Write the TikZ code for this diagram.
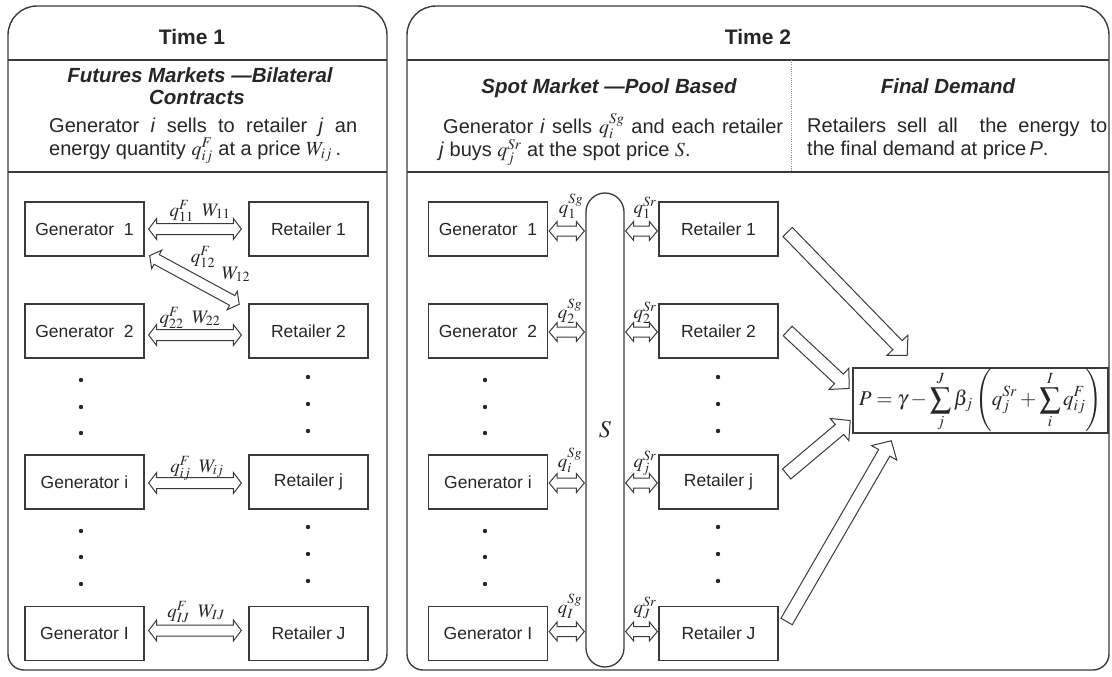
\documentclass[tikz,border=0pt]{standalone}
\usepackage{mathptmx}
\usepackage[no-math]{fontspec}
\setmainfont{Liberation Sans}
\usetikzlibrary{calc}

\definecolor{ink}{HTML}{3A3A3A}
\definecolor{txt}{HTML}{262626}

% end points of an outlined arrow: angle and length between two points
\newcommand\arrowends[2]{%
  \path (#1); \pgfgetlastxy{\ArrAx}{\ArrAy}%
  \path (#2); \pgfgetlastxy{\ArrBx}{\ArrBy}%
  \pgfmathsetmacro\ArrAng{atan2((\ArrBy)-(\ArrAy),(\ArrBx)-(\ArrAx))}%
  \pgfmathsetmacro\ArrLen{veclen((\ArrBx)-(\ArrAx),(\ArrBy)-(\ArrAy))}%
}
% single-headed hollow arrow: from, to, shaft half width, head half width, head length
\newcommand\fatarrow[5]{%
  \arrowends{#1}{#2}%
  \draw[outl, shift={(#1)}, rotate=\ArrAng]
    (0,-#3) -- ({\ArrLen-#5},-#3) -- ({\ArrLen-#5},-#4) -- (\ArrLen,0)
    -- ({\ArrLen-#5},#4) -- ({\ArrLen-#5},#3) -- (0,#3) -- cycle;
}
% double-headed hollow arrow
\newcommand\fatdarrow[5]{%
  \arrowends{#1}{#2}%
  \draw[outl, shift={(#1)}, rotate=\ArrAng]
    (#5,-#3) -- ({\ArrLen-#5},-#3) -- ({\ArrLen-#5},-#4) -- (\ArrLen,0)
    -- ({\ArrLen-#5},#4) -- ({\ArrLen-#5},#3) -- (#5,#3) -- (#5,#4) -- (0,0)
    -- (#5,-#4) -- cycle;
}

\tikzset{
  frame/.style={draw=ink, line width=1.4pt},
  outl/.style={draw=ink, line width=1pt, line join=miter},
  box/.style={draw=ink, line width=1.3pt, minimum width=119pt, minimum height=54pt,
    inner sep=0pt, text=txt, font=\fontsize{17.5}{20}\selectfont},
  pool/.style={draw=ink, line width=1.3pt, rounded corners=19pt, minimum width=38pt,
    minimum height=474pt, inner sep=0pt},
  timehead/.style={text=txt, anchor=base, inner sep=0pt, font=\fontsize{21}{24}\selectfont\bfseries},
  subhead/.style={text=txt, anchor=base, inner sep=0pt, font=\fontsize{20.5}{24}\selectfont\bfseries\itshape},
  body/.style={text=txt, anchor=base west, inner sep=0pt, font=\fontsize{20}{24}\selectfont},
  lbl/.style={text=txt, anchor=base, inner sep=0pt, font=\fontsize{19}{22}\selectfont},
  dot/.style={fill=txt},
}

\begin{document}
\begin{tikzpicture}[x=1pt,y=-1pt]
\useasboundingbox (0,0) rectangle (1112,677);

% ---------------- period 1 panel ----------------
\draw[frame] (8,300) [rounded corners=29pt] -- (8,6) -- (387,6) -- (387,300)
  [rounded corners=16pt] -- (387,670) -- (8,670) -- cycle;
\draw[frame] (8,60) -- (387,60);
\draw[frame] (8,172) -- (387,172);

\node[timehead] (h1) at (192,45) {Time 1};
\node[subhead] (s1a) at (200,83) {Futures Markets —Bilateral};
\node[subhead] (s1b) at (197,105) {Contracts};
\node[body] (t1a) at (49,132) {\makebox[308pt][s]{Generator \textit{i} sells to retailer \textit{j} an}};
\node[body] (t1b) at (49,155) {energy quantity $q_{ij}^{F}$ at a price $W_{ij}$\,.};

\node[box] (g1) at (84.5,229)   {Generator\ \ 1};
\node[box] (g2) at (84.5,331)   {Generator\ \ 2};
\node[box] (gi) at (84.5,482)   {Generator i};
\node[box] (gI) at (84.5,633.5) {Generator I};
\node[box] (r1) at (308.5,229)   {Retailer 1};
\node[box] (r2) at (308.5,331)   {Retailer 2};
\node[box] (rj) at (308.5,482)   {Retailer j};
\node[box] (rJ) at (308.5,633.5) {Retailer J};

\foreach \y in {380,407,433,531,557,584} \fill[dot] (81,\y) circle[radius=2.2pt];
\foreach \y in {377,404,431,527,554,581} \fill[dot] (308,\y) circle[radius=2.2pt];

\fatdarrow{$(g1.east)+(4,0)$}{$(r1.west)+(-7,0)$}{5.5}{10.5}{8}
\fatdarrow{$(g1.south east)+(5,-1)$}{$(r2.north west)+(-9,1)$}{5.5}{10.5}{8}
\fatdarrow{$(g2.east)+(4,4)$}{$(r2.west)+(-7,4)$}{5.5}{10.5}{8}
\fatdarrow{$(gi.east)+(4,1)$}{$(rj.west)+(-7,1)$}{5.5}{10.5}{8}
\fatdarrow{$(gI.east)+(4,-3)$}{$(rJ.west)+(-7,-3)$}{5.5}{10.5}{8}

\node[lbl] (l11) at (200,216) {$q_{11}^{F}\;\;W_{11}$};
\node[lbl] (l12a) at (203,262) {$q_{12}^{F}$};
\node[lbl] (l12b) at (236,279) {$W_{12}$};
\node[lbl] (l22) at (190,323) {$q_{22}^{F}\;\;W_{22}$};
\node[lbl] (lij) at (197,472) {$q_{ij}^{F}\;\;W_{ij}$};
\node[lbl] (lIJ) at (196,617) {$q_{IJ}^{F}\;\;W_{IJ}$};

% ---------------- period 2 panel ----------------
\draw[frame] (407,300) [rounded corners=29pt] -- (407,6) -- (1109,6) -- (1109,300)
  [rounded corners=16pt] -- (1109,670) -- (407,670) -- cycle;
\draw[frame] (407,60) -- (1109,60);
\draw[frame] (407,172) -- (1109,172);
\draw[draw=black!45, line width=0.8pt, dash pattern=on 1pt off 1.2pt] (791,60) -- (791,172);

\node[timehead] (h2) at (758,45) {Time 2};
\node[subhead] (s2) at (609,93) {Spot Market —Pool Based};
\node[subhead] (s3) at (948,93) {Final Demand};
\node[body] (t2a) at (443,133) {\makebox[340pt][s]{Generator \textit{i} sells\ $q_i^{Sg}$ and each retailer}};
\node[body] (t2b) at (439,157) {\textit{j} buys\ $q_j^{Sr}$ at the spot price\ $S$.};
\node[body] (t3a) at (807,132) {\makebox[300pt][s]{Retailers sell all\ \ the energy to}};
\node[body] (t3b) at (807,155) {the final demand at price\,\textit{P}.};

\node[box] (G1) at (488,229)   {Generator\ \ 1};
\node[box] (G2) at (488,331)   {Generator\ \ 2};
\node[box] (Gi) at (488,482)   {Generator i};
\node[box] (GI) at (488,633.5) {Generator I};
\node[box] (R1) at (718.5,229)   {Retailer 1};
\node[box] (R2) at (718.5,331)   {Retailer 2};
\node[box] (Rj) at (718.5,482)   {Retailer j};
\node[box] (RJ) at (718.5,633.5) {Retailer J};

\node[pool] (pool) at (605,430) {};
\node[text=txt, font=\fontsize{24}{28}\selectfont] (S) at (605,430) {$S$};

\foreach \y in {380,407,433,531,557,584} \fill[dot] (485,\y) circle[radius=2.2pt];
\foreach \y in {377,404,431,527,554,581} \fill[dot] (718,\y) circle[radius=2.2pt];

\foreach \g/\r/\d in {G1/R1/2, G2/R2/1, Gi/Rj/1, GI/RJ/-2}{
  \fatdarrow{$(\g.east)+(1,\d)$}{$(\g.east -| pool.west)+(-1,\d)$}{5}{9.5}{8}
  \fatdarrow{$(\r.west -| pool.east)+(1,\d)$}{$(\r.west)+(-1,\d)$}{5}{9.5}{8}
}

\node[lbl] (q1g) at (571,213) {$q_1^{Sg}$};
\node[lbl] (q2g) at (570,318) {$q_2^{Sg}$};
\node[lbl] (qig) at (570,467) {$q_i^{Sg}$};
\node[lbl] (qIg) at (570,613) {$q_I^{Sg}$};
\node[lbl] (q1r) at (645,213) {$q_1^{Sr}$};
\node[lbl] (q2r) at (645,318) {$q_2^{Sr}$};
\node[lbl] (qjr) at (645,467) {$q_j^{Sr}$};
\node[lbl] (qJr) at (645,613) {$q_J^{Sr}$};

% final demand price
\node[draw=ink, line width=1.5pt, minimum width=255pt, minimum height=65pt, inner sep=0pt,
  text=txt, font=\fontsize{21}{24}\selectfont] (price) at (980.5,400.5)
  {$\displaystyle P=\gamma-\sum_{j}^{J}\beta_j\left(q_j^{Sr}+\sum_{i}^{I}q_{ij}^{F}\right)$};

\fatarrow{$(R1.east)+(9,3)$}{$(price.north west)+(55,-12)$}{6.5}{14.5}{14}
\fatarrow{$(R2.east)+(9,0)$}{$(price.west)+(-3,-12)$}{6.5}{14.5}{14}
\fatarrow{$(Rj.east)+(8,-8)$}{$(price.west)+(-2,20)$}{6.5}{14.5}{14}
\fatarrow{$(RJ.east)+(8,-12)$}{$(price.south west)+(39,7)$}{6.5}{14.5}{14}

\end{tikzpicture}
\end{document}
